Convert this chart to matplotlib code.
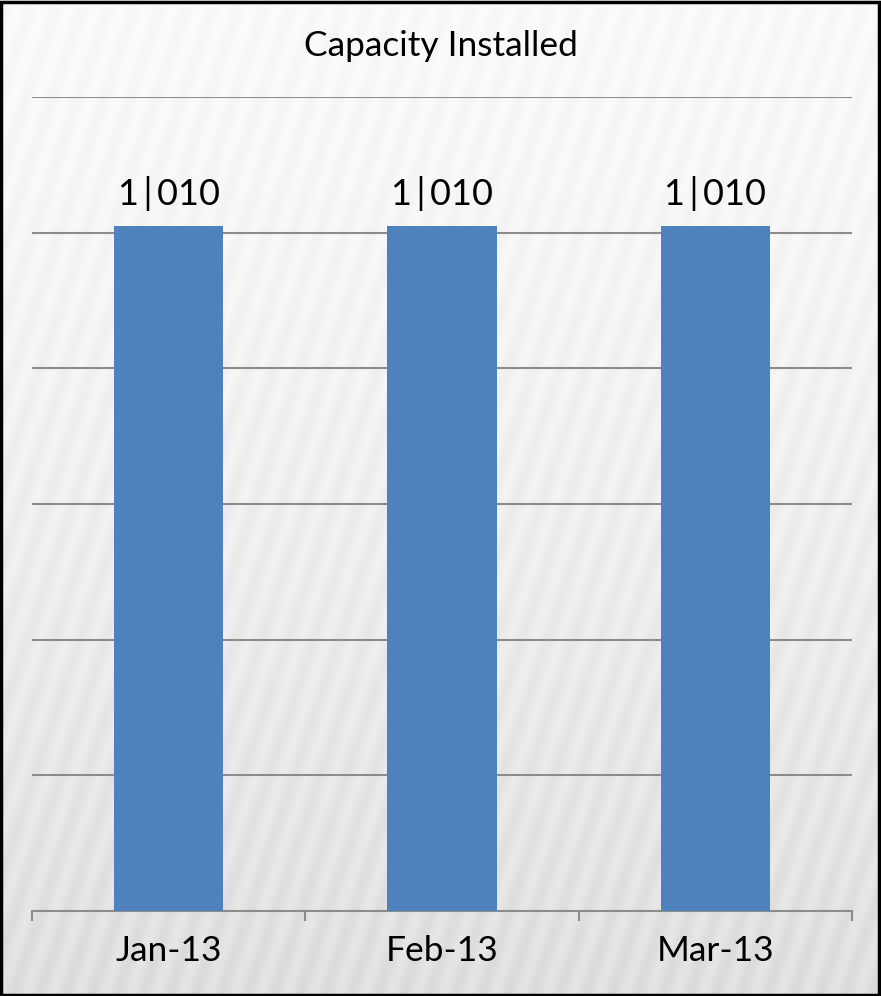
import numpy as np
import matplotlib.pyplot as plt
from matplotlib.patches import Rectangle

months = ['Jan-13', 'Feb-13', 'Mar-13']
capacity = [1010, 1010, 1010]
grid_values = [0, 200, 400, 600, 800, 1000, 1200]

plt.rcParams['font.family'] = ['Lato', 'DejaVu Sans']

W, H = 881, 996
fig = plt.figure(figsize=(W / 100, H / 100), dpi=100)

# striped grey background
bg = fig.add_axes([0, 0, 1, 1])
yy, xx = np.mgrid[0:H, 0:W]
base = 0.985 - 0.09 * (yy / H) ** 1.5
stripes = 0.5 + 0.5 * np.sin(2 * np.pi * (xx + yy / 3.0) / 26.0)
shade = base - 0.04 * stripes * (0.4 + 0.6 * yy / H)
bg.imshow(np.dstack([shade] * 3), aspect='auto', extent=[0, 1, 0, 1])
bg.set_xlim(0, 1)
bg.set_ylim(0, 1)
bg.axis('off')

ax = fig.add_axes([32 / W, 1 - 911 / H, (852 - 32) / W, (911 - 97) / H])
ax.patch.set_alpha(0)
x = np.arange(len(months))
ax.bar(x, capacity, width=0.4, color='#4F81BD', zorder=3)

for xi, v in zip(x, capacity):
    ax.text(xi, v + 22, f'{v:,}'.replace(',', ' | ').replace(' ', '\u2009'),
            ha='center', va='bottom', fontsize=26, color='black', zorder=4)

ax.set_xlim(-0.5, len(months) - 0.5)
ax.set_ylim(0, 1200)
for g in grid_values[1:]:
    ax.axhline(g, color='#8c8c8c', lw=1.5, zorder=1)

for s in ['top', 'right', 'left']:
    ax.spines[s].set_visible(False)
ax.spines['bottom'].set_color('#8c8c8c')
ax.spines['bottom'].set_linewidth(1.5)
ax.set_yticks([])
ax.set_xticks(x)
ax.set_xticklabels(months, fontsize=25.5)
ax.tick_params(axis='x', which='major', length=0, pad=17)
ax.set_xticks(np.arange(len(months) + 1) - 0.5, minor=True)
ax.tick_params(axis='x', which='minor', length=7, width=1.5, color='#8c8c8c')

fig.text(441 / W, 1 - 46 / H, 'Capacity Installed', ha='center', va='center',
         fontsize=25.5, color='black')

fig.patches.append(Rectangle((0.001, 0.001), 0.997, 0.997, transform=fig.transFigure,
                             fill=False, edgecolor='black', lw=2.5))

fig.savefig('out.png', dpi=100)
